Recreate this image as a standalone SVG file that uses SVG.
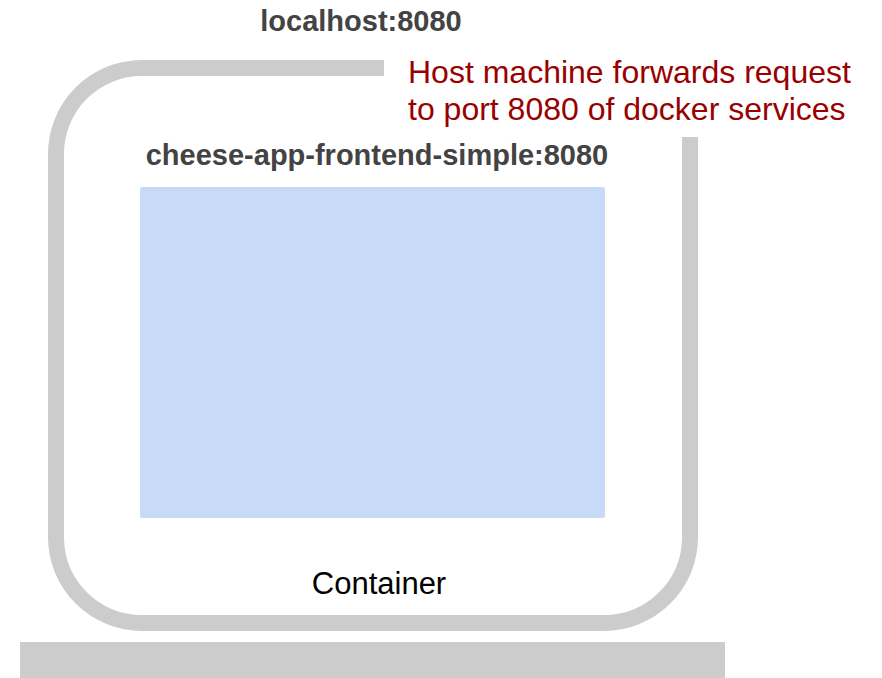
<svg xmlns="http://www.w3.org/2000/svg" width="882" height="678" viewBox="0 0 882 678">
<style>
.bold{font-family:"Liberation Sans",Arial,sans-serif;font-weight:bold;fill:#434343;font-size:29px}
.red{font-family:"Liberation Sans",Arial,sans-serif;fill:#990000;font-size:32px}
.lbl{font-family:"Liberation Sans",Arial,sans-serif;fill:#000000;font-size:31px}
</style>
<rect width="882" height="678" fill="#ffffff"/>
<g id="host">
<rect x="20" y="642" width="705" height="36" fill="#cccccc"/>
<text class="bold" x="361" y="31" text-anchor="middle">localhost:8080</text>
</g>
<g id="container">
<path d="M384 68 H142 A86 86 0 0 0 56 154 V538 A86 86 0 0 0 142 623 H604 A86 86 0 0 0 690 538 V137" fill="none" stroke="#cccccc" stroke-width="16"/>
<text class="lbl" x="379" y="594" text-anchor="middle">Container</text>
</g>
<g id="service">
<rect x="140" y="187" width="465" height="331" rx="2" fill="#c9daf8"/>
<text class="bold" x="377" y="165" text-anchor="middle">cheese-app-frontend-simple:8080</text>
</g>
<g id="note">
<text class="red" x="408" y="83">Host machine forwards request</text>
<text class="red" x="408" y="120">to port 8080 of docker services</text>
</g>
<g id="connectors"></g>
</svg>
